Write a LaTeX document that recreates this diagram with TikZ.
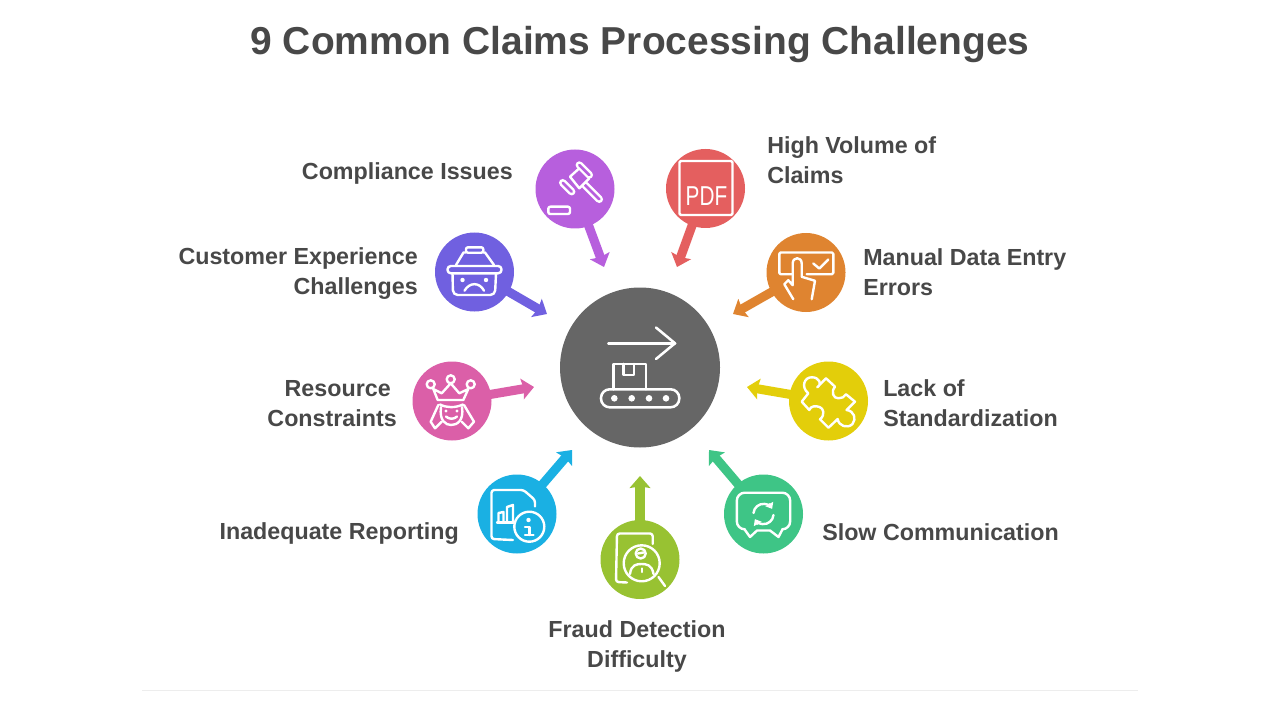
\documentclass[tikz,border=0pt]{standalone}
\usepackage{fontspec}
\usepackage{xcolor}
\usepackage{tikz}
\usetikzlibrary{arrows.meta}
\setmainfont{Liberation Sans}
\definecolor{hubgray}{HTML}{666666}
\definecolor{inkgray}{HTML}{484848}
\definecolor{cpurple}{HTML}{B75FDD}
\definecolor{cred}{HTML}{E45F5F}
\definecolor{corange}{HTML}{DF8430}
\definecolor{cviolet}{HTML}{7060E0}
\definecolor{cpink}{HTML}{DB5FA8}
\definecolor{cyellow}{HTML}{E3CE0A}
\definecolor{cblue}{HTML}{1AB0E3}
\definecolor{cgreen}{HTML}{3EC586}
\definecolor{clime}{HTML}{98C232}
\begin{document}
\begin{tikzpicture}[x=0.75pt,y=-0.75pt,
        spot/.style={circle,fill=#1,inner sep=0pt,minimum size=59.25pt},
        spoke/.style={draw=#1,line width=6.8pt,shorten <=-2pt,-{Stealth[length=9pt,width=15.5pt,inset=1.2pt]}},
        icon/.style={draw=white,line width=1.8pt,line cap=round,line join=round},
        hubicon/.style={draw=white,line width=1.9pt,line cap=round,line join=round},
        lbl/.style={text=inkgray,font=\bfseries\fontsize{17.45}{22.5}\selectfont,inner sep=0pt}]
        \useasboundingbox (0,0) rectangle (1280,720);
        \node[text=inkgray,font=\bfseries\fontsize{29.2}{36}\selectfont,inner sep=0pt] (title) at (640,45)
          {9 Common Claims Processing Challenges};
        \node[circle,fill=hubgray,inner sep=0pt,minimum size=120pt] (hub) at (640,367.5) {};
        % spots round the hub, each with its arrow
        \foreach \nm/\cx/\cy/\tx/\ty/\col in {comp/575/189/604/267/cpurple,vol/705.5/188.5/677/267/cred,
            manual/806/272.5/733/314/corange,cust/474.5/272/547/314/cviolet,res/452/401/534/387/cpink,
            std/828.5/401/747/387/cyellow,rep/517/514/572/450/cblue,slow/763.5/514/709/450/cgreen,
            fraud/640/559.5/640/476/clime}{
          \node[spot=\col] (\nm) at (\cx,\cy) {};
          \coordinate (\nm tip) at (\tx,\ty);
          \draw[spoke=\col] (\nm) -- (\nm tip);
        }
        % labels
        \node[lbl,anchor=east] (tcomp) at (513,173) {Compliance Issues};
        \node[lbl,anchor=west,align=left] (tvol) at (767,160.5) {High Volume of\\Claims};
        \node[lbl,anchor=east,align=right] (tcust) at (418,274) {Customer Experience\\Challenges};
        \node[lbl,anchor=west,align=left] (tmanual) at (863,272) {Manual Data Entry\\Errors};
        \node[lbl,anchor=east,align=right] (tres) at (397,404) {Resource\hspace*{4.5pt}\\Constraints};
        \node[lbl,anchor=west,align=left] (tstd) at (883,403) {Lack of\\Standardization};
        \node[lbl,anchor=east] (trep) at (459,534) {Inadequate Reporting};
        \node[lbl,anchor=west] (tslow) at (822,532) {Slow Communication};
        \node[lbl,align=center] (tfraud) at (637,646) {Fraud Detection\\Difficulty};
        \draw[black!7,line width=0.75pt] (142,690) -- (1138,690);
        % hub: conveyor
        \begin{scope}[shift={(hub.center)}]
          \draw[hubicon] (-31.7,-24.2) -- (35,-24.2);
          \draw[hubicon] (16,-40) -- (35,-24.2) -- (16,-8.5);
          \draw[hubicon] (-26.7,21.8) -- (-26.7,-3.5) -- (6,-3.5) -- (6,21.8);
          \draw[hubicon] (-16.7,-3.5) -- (-16.7,7.5) -- (-6,7.5) -- (-6,-3.5);
          \draw[hubicon,rounded corners=6.5pt] (-39,21.8) rectangle (39.3,39.8);
          \foreach \dx in {-25.7,-8.3,9,26}
            \fill[white] (\dx,30.8) circle[radius=3.3];
        \end{scope}
        % gavel
        \begin{scope}[shift={(comp.center)}]
          \draw[icon,double=cpurple,double distance=2pt] (10,-4) -- (24.3,10.3);
          \draw[icon,fill=cpurple] (-5,-12.3) -- (5,-21.3) -- (14.3,-10.7) -- (4.3,-0.7) -- cycle;
          \draw[icon,double=cpurple,double distance=2pt] (-12.3,-6.3) -- (-3.3,2.7);
          \draw[icon,double=cpurple,double distance=2pt] (4.3,-24) -- (14.3,-14);
          \draw[icon,rounded corners=1.5pt] (-26.7,17.7) rectangle (-5,25);
        \end{scope}
        % pdf sheet
        \begin{scope}[shift={(vol.center)}]
          \draw[icon,rounded corners=1pt] (-26,-27.5) rectangle (27,26.5);
          \node[white,xscale=0.76,inner sep=0pt,font=\fontsize{20.5}{22}\selectfont] (pdf) at (1,7.5) {PDF};
        \end{scope}
        % tapping finger
        \begin{scope}[shift={(manual.center)}]
          \draw[icon,rounded corners=1pt] (-14.3,1.7) -- (-26.7,1.7) -- (-26.7,-20) -- (27.3,-20) -- (27.3,1.7) -- (0.7,1.7);
          \draw[icon] (7.3,-9) -- (13.3,-4) -- (22.3,-13);
          \draw[icon] (-12.7,26.7) -- (-21.7,11.7) -- (-17.7,7.7) -- (-13.3,12.7) -- (-13.3,-9)
            .. controls (-13.3,-16) and (-4.3,-16) .. (-4.3,-9) -- (-4.3,4.3) -- (9,8.3) -- (5.7,26.7);
        \end{scope}
        % sad basket
        \begin{scope}[shift={(cust.center)}]
          \draw[icon,rounded corners=1.5pt] (-8.5,-24.7) rectangle (8.8,-19.3);
          \draw[icon] (-18.5,-7) -- (-11,-19.5) -- (-8.5,-19.5);
          \draw[icon] (8.8,-19.5) -- (10.5,-19.5) -- (19.5,-7);
          \draw[icon,rounded corners=2.5pt] (-27,-6) rectangle (27,1.3);
          \draw[icon,rounded corners=3.5pt] (-22,1.3) -- (-21.5,23) -- (20.5,23) -- (21.5,1.3);
          \fill[white] (-12,8) circle[radius=2.2] (11.5,8) circle[radius=2.2];
          \draw[icon] (-10,18.7) .. controls (-5,10) and (5,10) .. (9.5,18.7);
        \end{scope}
        % crowned head
        \begin{scope}[shift={(res.center)}]
          \draw[icon] (-21.3,-16.7) circle[radius=4] (-1.3,-21.7) circle[radius=4] (18.7,-16.7) circle[radius=4];
          \draw[icon] (-14.3,-1) -- (-18.7,-12) -- (-10.3,-7.7) -- (-1.3,-17.7) -- (7.3,-7.7) -- (16.3,-12) -- (11.3,-1) -- cycle;
          \draw[icon] (-13.7,4) -- (-21.3,20.7) -- (-17,27.3) -- (-10.3,20.7);
          \draw[icon] (12,4) -- (22,20.7) -- (16.3,27.3) -- (9.7,20.7);
          \draw[icon] (-11,6) .. controls (-13,20) and (-6,24) .. (-1,24) .. controls (5,24) and (12,20) .. (10,6);
          \draw[icon] (-12,3.5) .. controls (-5,7) and (3,7) .. (11,3.5);
          \fill[white] (-6,10) circle[radius=1.7] (5,10) circle[radius=1.7];
          \draw[icon] (-6,15.5) .. controls (-3,18.5) and (2,18.5) .. (5,15.5);
        \end{scope}
        % puzzle piece
        \begin{scope}[shift={(std.center)}]
          \draw[icon] (-20.2,-7.7) .. controls (-28,-14) and (-24,-24) .. (-16.8,-23.7)
            .. controls (-9,-24) and (-6,-16) .. (-11.2,-13.7) -- (-2.5,-22.7) -- (6.5,-14.3)
            .. controls (2,-9) and (5,-2.5) .. (9.8,-2.7) .. controls (13,-2.5) and (16,-4) .. (17.5,-6.7)
            -- (26.5,0.7) -- (18,9) .. controls (26,10) and (28,18) .. (24,23) .. controls (19,28) and (10,25) .. (9.2,18)
            -- (0,26.7) -- (-8.5,18.3) .. controls (-3,14) and (-5,7) .. (-9,6)
            .. controls (-13,4.5) and (-18,5) .. (-19.2,9) -- (-26.8,0.7) -- cycle;
        \end{scope}
        % report sheet
        \begin{scope}[shift={(rep.center)}]
          \draw[icon,rounded corners=2pt] (-4,26) -- (-25.5,25) -- (-25.5,-24) -- (6.5,-24) -- (18,-14) -- (18,-7.5);
          \draw[icon] (-18.5,8) -- (-18.5,-1) -- (-13.5,-2) -- (-13.5,7);
          \draw[icon] (-10,7) -- (-10,-7) -- (-4,-9) -- (-4,7);
          \draw[icon] (-20,8.5) -- (-2,8.5);
          \draw[icon] (12.3,12.7) circle[radius=15];
          \fill[white] (11.5,6) circle[radius=2.2];
          \draw[icon] (8,12.7) -- (12.3,12.7) -- (12.3,21);
          \draw[icon] (8,21) -- (16.5,21);
        \end{scope}
        % search for person
        \begin{scope}[shift={(fraud.center)}]
          \draw[icon,rounded corners=2pt] (12.7,-15.5) -- (12.7,-26) -- (-23,-26) -- (-24,22.5) -- (-13,23);
          \draw[icon] (1.7,3.8) circle[radius=18];
          \draw[icon] (18.5,17.5) -- (25,26.5);
          \draw[icon] (0.7,-6) circle[radius=5];
          \draw[icon] (-2,-6) -- (3.5,-7);
          \draw[icon] (-10,14.5) .. controls (-9,5) and (-3,4.5) .. (1.7,4.5) .. controls (6,4.5) and (12,5) .. (13.5,14.5);
          \draw[icon] (1.7,9) -- (1.7,12.5);
        \end{scope}
        % chat with refresh
        \begin{scope}[shift={(slow.center)}]
          \draw[icon,rounded corners=6pt] (-19,15.3) -- (-26.7,15.3) -- (-26.7,-21.3) -- (26.7,-21.3) -- (26.7,15.3) -- (19,15.3);
          \draw[icon] (-19,15.3) -- (-13.5,23) -- (-6.5,16.5) -- (6.5,16.5) -- (15,23) -- (19,15.3);
          \draw[icon,-{Triangle[length=4.2pt,width=6.5pt]}] (-10,-1) arc[start angle=-175,end angle=-30,radius=10];
          \draw[icon,-{Triangle[length=4.2pt,width=6.5pt]}] (10,1) arc[start angle=5,end angle=150,radius=10];
        \end{scope}
      \end{tikzpicture}
\end{document}
